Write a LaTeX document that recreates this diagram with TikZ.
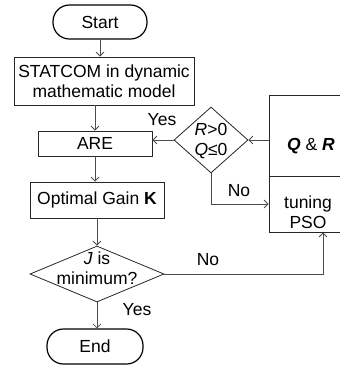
\documentclass[tikz,border=0pt]{standalone}
\usepackage{fontspec}
\setmainfont{Liberation Sans}
\usetikzlibrary{arrows.meta,shapes.geometric}

\begin{document}
\begin{tikzpicture}[x=1pt,y=-1pt,line width=.8pt,font=\fontsize{17.5}{20}\selectfont,
 every node/.style={inner sep=1pt},>={Straight Barb[length=4pt,width=8pt]},
 term/.style={draw=black,line width=1.2pt,rounded corners=16.5pt,minimum width=94pt,minimum height=34pt},
 proc/.style={draw=black!85,inner sep=0pt},
 dec/.style={draw=black!85,diamond,inner sep=0pt},
 flow/.style={draw=black!70,->},
 lbl/.style={inner sep=0pt}]
\clip (0,0) rectangle (340,368);
% main column
\node[term] (start) at (100,22) {Start};
\node[proc,minimum width=180pt,minimum height=48pt,align=center] (model) at (104,81)
 {STATCOM in dynamic\\mathematic model};
\node[proc,minimum width=114pt,minimum height=25pt] (are) at (95,143.5) {ARE};
\node[proc,minimum width=134pt,minimum height=36pt] (gain) at (97,200) {Optimal Gain \textbf{K}};
\node[dec,minimum width=134pt,minimum height=56pt] (jmin) at (97,274) {};
\node[lbl,align=center] (jtext) at (97,268) {\textit{J} is\\minimum?};
\node[term,minimum width=96pt,minimum height=35pt] (end) at (95,346.5) {End};
% weight check and PSO block
\node[dec,minimum width=74pt,minimum height=66pt] (rq) at (211,140) {};
\node[lbl,align=center] (rqtext) at (211,141) {\textit{R}>0\\\textit{Q}≤0};
\node[proc,minimum width=80pt,minimum height=81pt] (qr) at (309,135.5) {};
\node[proc,minimum width=80pt,minimum height=56pt] (pso) at (309,204) {};
\node[lbl] (qrtext) at (311,146) {\textbf{\textit{Q}} \& \textbf{\textit{R}}};
\node[lbl,align=center] (psotext) at (308,212) {tuning\\PSO};
\coordinate (psoin) at ([xshift=14pt]pso.south);
% connectors
\draw[flow] (start) -- (start |- model.north);
\draw[flow] (are |- model.south) -- (are.north);
\draw[flow] (are.south) -- (are.south |- gain.north);
\draw[flow] (gain.south) -- (jmin.north);
\draw[flow] (jmin.south) -- (jmin.south |- end.north);
\node[lbl] (yes1) at (137,310) {Yes};
\draw[flow] (jmin.east) -| (psoin);
\node[lbl] (no1) at (208,260) {No};
\draw[flow] (rq.east -| qr.west) -- (rq.east);
\draw[flow] (rq.west) -- (rq.west -| are.east);
\node[lbl] (yes2) at (162,120) {Yes};
\draw[flow] (rq.south) |- (pso.west);
\node[lbl] (no2) at (239,191) {No};
\end{tikzpicture}
\end{document}
